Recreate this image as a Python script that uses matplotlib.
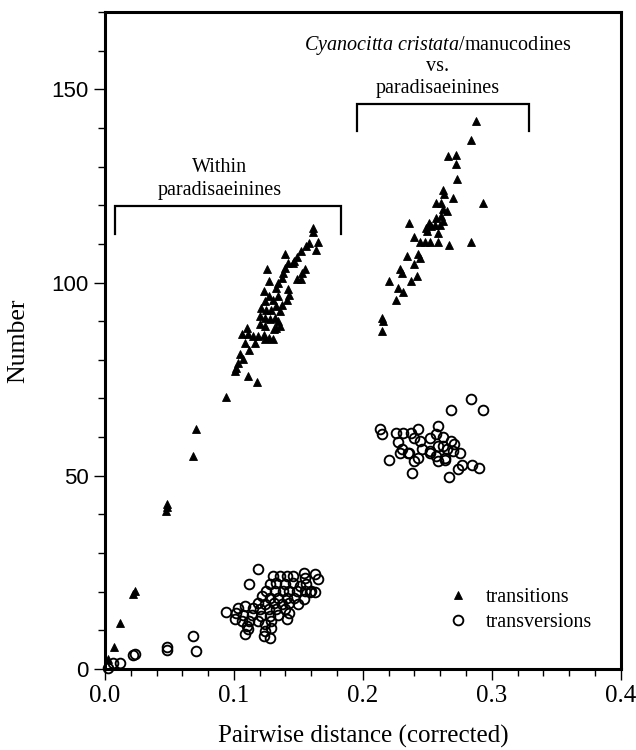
import numpy as np
import matplotlib
matplotlib.use('Agg')
import matplotlib.pyplot as plt

plt.rcParams['mathtext.fontset'] = 'custom'
plt.rcParams['mathtext.rm'] = 'Liberation Serif'
plt.rcParams['mathtext.it'] = 'Liberation Serif:italic'

serif = 'Liberation Serif'
sans = 'Liberation Sans'

# transitions (filled triangles)
ts_x = [0.002, 0.007, 0.012, 0.022, 0.023, 0.047, 0.048, 0.048, 0.068, 0.071, 0.094,
        0.161, 0.161, 0.158, 0.165, 0.164, 0.156, 0.152, 0.140, 0.149, 0.147, 0.146,
        0.155, 0.153, 0.149, 0.152, 0.126, 0.127, 0.142, 0.140, 0.138, 0.137, 0.134,
        0.133, 0.142, 0.143, 0.141, 0.123, 0.127, 0.124, 0.130, 0.134, 0.121, 0.125,
        0.129, 0.133, 0.137, 0.136, 0.120, 0.124, 0.128, 0.132, 0.134, 0.136, 0.120,
        0.124, 0.131, 0.133, 0.110, 0.106, 0.111, 0.115, 0.119, 0.123, 0.127, 0.130,
        0.124, 0.116, 0.109, 0.112, 0.105, 0.107, 0.103, 0.102, 0.101, 0.111, 0.118,
        0.288, 0.284, 0.266, 0.272, 0.272, 0.273, 0.262, 0.263, 0.270, 0.293, 0.257,
        0.261, 0.262, 0.265, 0.261, 0.262, 0.260, 0.257, 0.251, 0.253, 0.256, 0.249,
        0.250, 0.236, 0.258, 0.240, 0.244, 0.248, 0.252, 0.258, 0.267, 0.284, 0.234,
        0.243, 0.244, 0.240, 0.229, 0.230, 0.242, 0.237, 0.220, 0.227, 0.231, 0.226,
        0.215, 0.216, 0.215]
ts_y = [2.7, 5.7, 12.0, 19.5, 20.2, 40.8, 41.8, 42.8, 55.0, 62.0, 70.4,
        114.2, 113.0, 110.3, 110.4, 108.3, 109.4, 108.1, 107.4, 106.7, 105.5, 105.1,
        103.4, 102.5, 101.0, 101.0, 103.4, 100.4, 105.1, 103.8, 102.5, 101.2, 99.9,
        98.7, 98.2, 96.9, 95.6, 97.8, 96.5, 95.2, 95.6, 96.5, 93.5, 93.0,
        93.0, 93.9, 94.3, 92.6, 91.3, 90.9, 90.5, 90.9, 90.0, 88.7, 89.2,
        88.7, 87.9, 88.3, 88.3, 86.6, 86.6, 86.1, 86.1, 86.3, 85.7, 85.5,
        85.3, 84.4, 84.4, 82.5, 81.4, 80.1, 79.3, 78.0, 77.1, 75.8, 74.3,
        141.7, 136.8, 132.7, 132.9, 130.7, 126.7, 123.9, 122.8, 121.8, 120.6, 120.6,
        120.6, 118.9, 118.5, 117.2, 115.9, 115.0, 116.8, 115.5, 114.6, 115.0, 114.2,
        113.3, 115.5, 112.9, 111.8, 110.4, 110.4, 110.4, 110.4, 109.6, 110.4, 106.8,
        107.5, 106.4, 104.7, 103.4, 102.4, 101.7, 100.5, 100.5, 98.7, 97.6, 95.6,
        90.9, 90.1, 87.4]

# transversions (open circles)
tv_x = [0.002, 0.006, 0.012, 0.022, 0.023, 0.048, 0.048, 0.068, 0.071,
        0.119, 0.112, 0.130, 0.136, 0.141, 0.146, 0.154, 0.155, 0.163, 0.165,
        0.128, 0.133, 0.140, 0.146, 0.151, 0.156,
        0.125, 0.132, 0.138, 0.143, 0.149, 0.155, 0.160,
        0.122, 0.128, 0.134, 0.141, 0.147, 0.154, 0.159, 0.163,
        0.119, 0.124, 0.131, 0.137, 0.143, 0.150,
        0.103, 0.109, 0.115, 0.120, 0.127, 0.133, 0.140, 0.143,
        0.094, 0.102, 0.107, 0.114, 0.121, 0.128, 0.134,
        0.101, 0.106, 0.112, 0.119, 0.124, 0.129, 0.141,
        0.110, 0.111, 0.109, 0.124, 0.123, 0.129, 0.128,
        0.284, 0.268, 0.293, 0.213, 0.215, 0.226, 0.231, 0.237, 0.243, 0.258,
        0.227, 0.240, 0.244, 0.252, 0.257, 0.262, 0.268, 0.271,
        0.230, 0.235, 0.246, 0.252, 0.258, 0.262, 0.265,
        0.229, 0.236, 0.243, 0.252, 0.257, 0.264, 0.270, 0.275,
        0.220, 0.240, 0.258, 0.264, 0.277, 0.274, 0.285, 0.290, 0.238, 0.267]
tv_y = [0.3, 1.5, 1.5, 3.6, 3.9, 5.8, 4.8, 8.5, 4.7,
        25.8, 21.9, 24.1, 24.1, 24.1, 24.1, 24.9, 23.6, 24.5, 23.2,
        21.9, 22.3, 21.9, 22.3, 21.5, 21.9,
        20.2, 20.2, 20.2, 20.2, 20.2, 20.2, 20.2,
        18.9, 18.5, 18.5, 18.5, 18.5, 18.0, 19.8, 19.8,
        17.2, 16.7, 17.2, 16.7, 17.2, 16.7,
        15.9, 16.3, 15.9, 15.4, 15.4, 15.4, 15.4, 14.6,
        14.7, 14.6, 14.1, 14.1, 13.7, 13.7, 14.1,
        12.9, 12.4, 12.4, 12.4, 11.6, 12.4, 12.9,
        11.1, 10.3, 9.0, 9.8, 8.5, 10.7, 8.1,
        69.9, 66.9, 66.9, 62.0, 60.9, 61.0, 61.0, 61.0, 62.0, 63.0,
        58.8, 59.9, 59.0, 59.9, 60.7, 60.1, 59.0, 58.1,
        56.8, 56.0, 56.8, 56.4, 57.7, 57.7, 56.8,
        55.8, 55.8, 54.7, 55.8, 55.1, 54.7, 56.4, 55.8,
        54.0, 53.8, 53.8, 54.2, 52.9, 51.8, 52.9, 51.9, 50.8, 49.8]

# group brackets: x from, x to, top y, leg bottom y
brk_within = (0.0076, 0.183, 119.8, 112.5)
brk_between = (0.1957, 0.329, 146.1, 139.1)

fig = plt.figure(figsize=(6.36, 7.5), dpi=100)
ax = fig.add_axes([0.165, 0.108, 0.811, 0.876])

ax.plot(ts_x, ts_y, linestyle='none', marker='^', ms=6.4, color='black',
        markeredgewidth=0.6, label='transitions', clip_on=False)
ax.plot(tv_x, tv_y, linestyle='none', marker='o', ms=7, markerfacecolor='none',
        markeredgecolor='black', markeredgewidth=1.35, label='transversions', clip_on=False)

for x0, x1, yt, yb in (brk_within, brk_between):
    ax.plot([x0, x0, x1, x1], [yb, yt, yt, yb], color='black', lw=1.6, solid_joinstyle='miter')

ax.text(0.089, 129.7, 'Within', ha='center', va='center', family=serif, fontsize=14.5)
ax.text(0.089, 123.9, 'paradisaeinines', ha='center', va='center', family=serif, fontsize=14.5)
ax.text(0.258, 161.4, r'$\it{Cyanocitta\ cristata}$/manucodines', ha='center', va='center',
        family=serif, fontsize=14.5)
ax.text(0.258, 155.8, 'vs.', ha='center', va='center', family=serif, fontsize=14.5)
ax.text(0.258, 150.2, 'paradisaeinines', ha='center', va='center', family=serif, fontsize=14.5)

ax.set_xlim(0, 0.4)
ax.set_ylim(0, 170)
ax.set_xticks([0.0, 0.1, 0.2, 0.3, 0.4])
ax.set_xticklabels(['0.0', '0.1', '0.2', '0.3', '0.4'], family=serif, fontsize=18)
ax.set_xticks(np.arange(0, 0.401, 0.02), minor=True)
ax.set_yticks([0, 50, 100, 150])
ax.set_yticklabels(['0', '50', '100', '150'], family=sans, fontsize=16)
ax.set_yticks(np.arange(0, 171, 10), minor=True)
ax.tick_params(which='both', direction='out', top=False, right=False, width=1.0)
ax.tick_params(which='major', length=8)
ax.tick_params(which='minor', length=5)
for s in ax.spines.values():
    s.set_linewidth(2.2)

ax.set_xlabel('Pairwise distance (corrected)', family=serif, fontsize=18, labelpad=13)
ax.set_ylabel('Number', family=serif, fontsize=18.5, labelpad=16)

leg = ax.legend(loc='center left', bbox_to_anchor=(0.641, 0.09), frameon=False,
                prop={'family': serif, 'size': 14.5}, handlelength=1.2, handletextpad=0.8,
                labelspacing=0.3, numpoints=1, borderpad=0)

fig.savefig('out.png', dpi=100)
